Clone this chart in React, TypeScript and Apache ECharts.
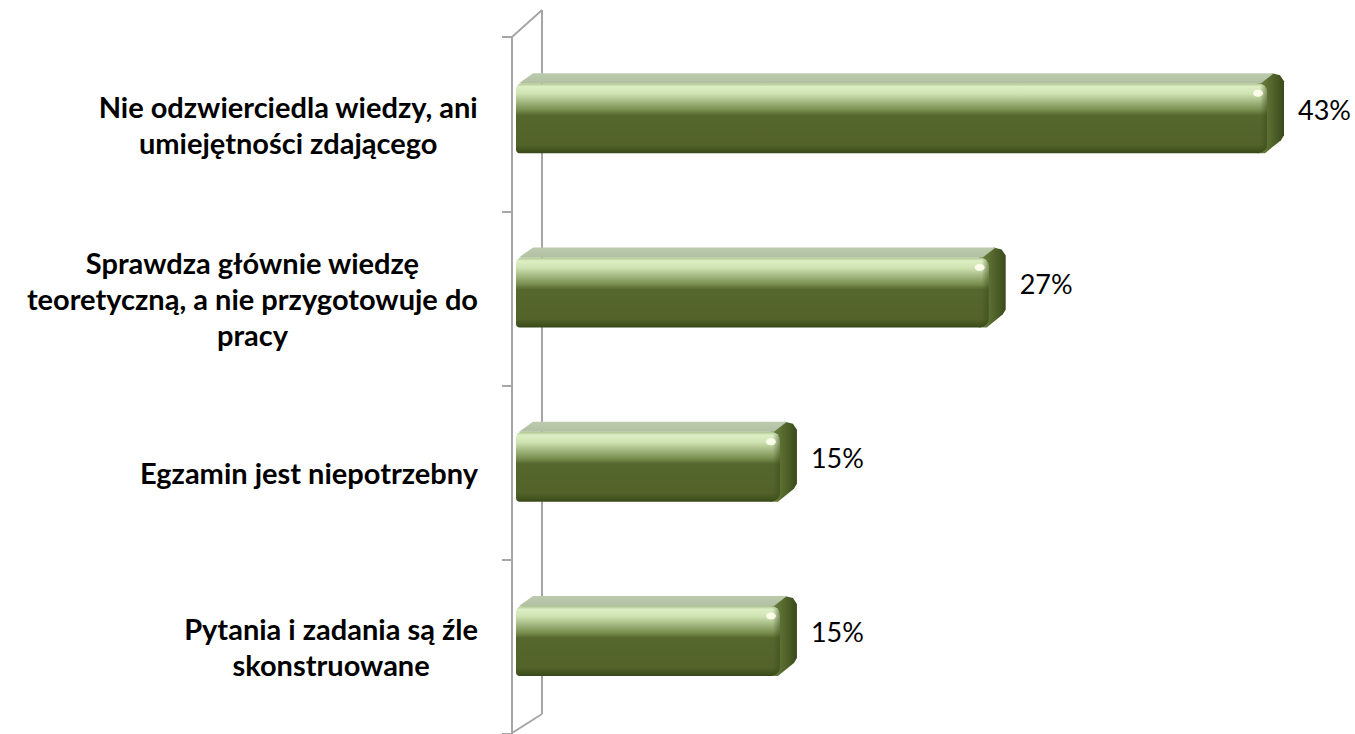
import React, { useEffect, useRef } from "react";
import * as echarts from "echarts";

const categories = [
  "Nie odzwierciedla wiedzy, ani\numiejętności zdającego",
  "Sprawdza głównie wiedzę\nteoretyczną, a nie przygotowuje do\npracy",
  "Egzamin jest niepotrzebny",
  "Pytania i zadania są źle\nskonstruowane",
];
const values = [43, 27, 15, 15];

export default function App() {
  const ref = useRef<HTMLDivElement>(null);
  useEffect(() => {
    const chart = echarts.init(ref.current!, null, { renderer: "svg" });
    const DX = 17;
    const DY = 10;
    const frontGrad = () =>
      new echarts.graphic.LinearGradient(0, 0, 0, 1, [
        { offset: 0, color: "#a9bf8d" },
        { offset: 0.05, color: "#dcefc4" },
        { offset: 0.15, color: "#cfe3b2" },
        { offset: 0.28, color: "#9db37b" },
        { offset: 0.38, color: "#7a9050" },
        { offset: 0.46, color: "#56672d" },
        { offset: 0.88, color: "#526229" },
        { offset: 0.95, color: "#45551f" },
        { offset: 1, color: "#394719" },
      ]);
    const endGrad = () =>
      new echarts.graphic.LinearGradient(0, 0, 1, 0, [
        { offset: 0, color: "#71874a" },
        { offset: 0.5, color: "#56692d" },
        { offset: 1, color: "#3a4a1c" },
      ]);
    const topGrad = () =>
      new echarts.graphic.LinearGradient(0, 0, 0, 1, [
        { offset: 0, color: "#bccaae" },
        { offset: 1, color: "#b2c1a2" },
      ]);

    const option: any = {
      animation: false,
      backgroundColor: "#ffffff",
      grid: { left: 512, right: 8, top: 37, bottom: 0, containLabel: false },
      xAxis: {
        type: "value",
        min: 0,
        max: 48,
        show: false,
      },
      yAxis: {
        type: "category",
        inverse: true,
        data: categories,
        axisLine: { show: true, lineStyle: { color: "#a6a6a6", width: 2 } },
        axisTick: { show: true, length: 10, lineStyle: { color: "#a6a6a6", width: 2 } },
        axisLabel: {
          margin: 34,
          align: "right",
          formatter: (val: string) =>
            val
              .split("\n")
              .map((l) => "{c|" + l + "}")
              .join("\n"),
          rich: {
            c: {
              align: "center",
              fontFamily: "Lato",
              fontWeight: "bold",
              fontSize: 29,
              lineHeight: 36,
              color: "#000000",
            },
          },
        },
      },
      graphic: [
        { type: "line", shape: { x1: 542, y1: 10, x2: 542, y2: 714 }, style: { stroke: "#a6a6a6", lineWidth: 2 }, z: 0 },
        { type: "line", shape: { x1: 512, y1: 37, x2: 542, y2: 10 }, style: { stroke: "#a6a6a6", lineWidth: 2 }, z: 0 },
        { type: "line", shape: { x1: 512, y1: 733, x2: 542, y2: 714 }, style: { stroke: "#a6a6a6", lineWidth: 2 }, z: 0 },
      ],
      series: [
        {
          type: "custom",
          z: 5,
          data: values.map((v, i) => [v, i]),
          encode: { x: 0, y: 1 },
          renderItem: (params: any, api: any) => {
            const idx = api.value(1);
            const v = api.value(0);
            const p0 = api.coord([0, idx]);
            const p1 = api.coord([v, idx]);
            const cy = p0[1];
            const xs = p0[0] + 4;
            const xe = p1[0] + 7;
            const top = cy - 41;
            const bottom = cy + 29;
            return {
              type: "group",
              children: [
                {
                  type: "polygon",
                  shape: {
                    points: [
                      [xe - 10, top],
                      [xe + DX - 12, top - DY],
                      [xe + DX - 4, top - DY + 2],
                      [xe + DX, top - DY + 8],
                      [xe + DX, bottom - DY - 8],
                      [xe + DX - 3, bottom - DY - 3],
                      [xe - 2, bottom],
                      [xe - 10, bottom],
                    ],
                  },
                  style: { fill: endGrad() },
                },
                {
                  type: "polygon",
                  shape: {
                    points: [
                      [xs + 3, top],
                      [xs + DX, top - DY],
                      [xe + DX - 10, top - DY],
                      [xe - 6, top],
                    ],
                  },
                  style: { fill: topGrad() },
                },
                {
                  type: "rect",
                  shape: { x: xs, y: top, width: xe - xs, height: bottom - top, r: [6, 9, 9, 4] },
                  style: { fill: frontGrad() },
                },
                {
                  type: "rect",
                  shape: { x: xe - 7, y: top + 2, width: 7, height: bottom - top - 4, r: [0, 6, 6, 0] },
                  style: {
                    fill: new echarts.graphic.LinearGradient(0, 0, 1, 0, [
                      { offset: 0, color: "rgba(60,75,28,0)" },
                      { offset: 1, color: "rgba(60,75,28,0.55)" },
                    ]),
                  },
                },
                {
                  type: "ellipse",
                  shape: { cx: xe - 9, cy: top + 10, rx: 5, ry: 3.5 },
                  style: { fill: "rgba(255,255,240,0.9)" },
                },
                {
                  type: "text",
                  style: {
                    text: v + "%",
                    x: xe + DX + 14,
                    y: cy - 15,
                    fill: "#000000",
                    fontFamily: "Lato",
                    fontSize: 27,
                    align: "left",
                    verticalAlign: "middle",
                  },
                },
              ],
            };
          },
        },
      ],
    };
    chart.setOption(option);
    return () => chart.dispose();
  }, []);
  return (
    <div
      ref={ref}
      style={{ position: "fixed", left: 0, top: 0, width: 1355, height: 734, background: "#fff" }}
    />
  );
}
